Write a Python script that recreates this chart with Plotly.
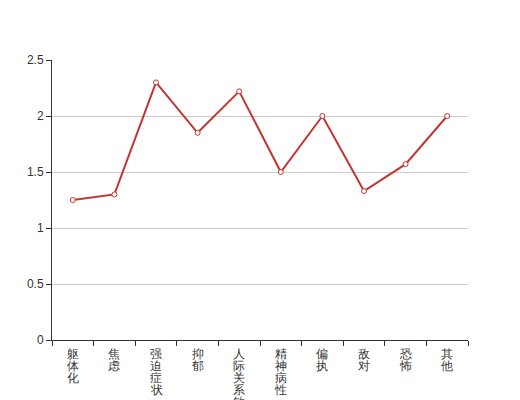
import plotly.graph_objects as go

categories = ["躯体化", "焦虑", "强迫症状", "抑郁", "人际关系敏感", "精神病性", "偏执", "敌对", "恐怖", "其他"]
values = [1.25, 1.30, 2.30, 1.85, 2.22, 1.50, 2.00, 1.33, 1.57, 2.00]
y_ticks = [0, 0.5, 1, 1.5, 2, 2.5]
y_tick_labels = ["0", "0.5", "1", "1.5", "2", "2.5"]

fig = go.Figure()
fig.add_trace(go.Scatter(
    x=categories,
    y=values,
    mode="lines+markers",
    line=dict(color="#c23531", width=2),
    marker=dict(symbol="circle", size=5, color="white",
                line=dict(color="#c23531", width=1)),
    hoverinfo="x+y",
))

# vertical category labels, one character per line (12px pitch)
annotations = []
for cat in categories:
    for j, ch in enumerate(cat):
        annotations.append(dict(
            x=cat, y=0, xref="x", yref="paper",
            text=ch, showarrow=False,
            xanchor="center", yanchor="top",
            height=12, valign="middle", borderpad=0,
            yshift=-7 - 12 * j,
            font=dict(family="sans-serif", size=12, color="#333"),
        ))

fig.update_layout(
    width=512, height=392,
    margin=dict(l=44, r=52, t=52, b=60),
    paper_bgcolor="white", plot_bgcolor="white",
    showlegend=False,
    font=dict(family="sans-serif", size=12, color="#333"),
    annotations=annotations,
    xaxis=dict(
        type="category",
        range=[-0.5, 9.5],
        tickson="boundaries",
        ticks="outside", ticklen=5, tickcolor="#333", tickwidth=1,
        showline=True, linecolor="#333", linewidth=1,
        showgrid=False, zeroline=False,
        showticklabels=False,
        automargin=False,
        fixedrange=True,
    ),
    yaxis=dict(
        range=[0, 2.5],
        tickvals=y_ticks, ticktext=y_tick_labels,
        ticks="outside", ticklen=5, tickcolor="#333", tickwidth=1,
        showline=True, linecolor="#333", linewidth=1,
        showgrid=True, gridcolor="#ccc", gridwidth=1,
        zeroline=False,
        tickfont=dict(size=12, color="#333"),
        automargin=False,
        fixedrange=True,
    ),
)

fig.write_html("out.html")
